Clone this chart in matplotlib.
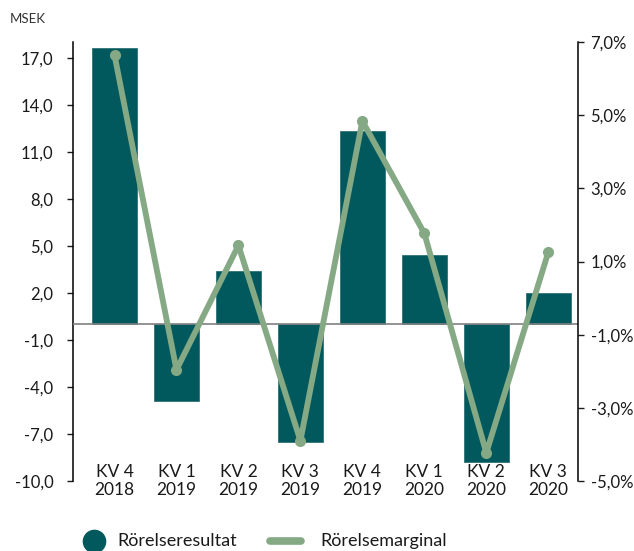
import matplotlib
matplotlib.use("Agg")
import matplotlib.pyplot as plt
from matplotlib.lines import Line2D
import matplotlib.transforms as mtransforms

plt.rcParams['font.family'] = ['Lato', 'DejaVu Sans']

categories = ["KV 4\n2018", "KV 1\n2019", "KV 2\n2019", "KV 3\n2019",
              "KV 4\n2019", "KV 1\n2020", "KV 2\n2020", "KV 3\n2020"]
rorelseresultat = [17.6, -4.9, 3.4, -7.5, 12.3, 4.4, -8.8, 2.0]
rorelsemarginal = [6.64, -1.96, 1.44, -3.9, 4.84, 1.77, -4.23, 1.25]
left_ticks = [-10, -7, -4, -1, 2, 5, 8, 11, 14, 17]
right_ticks = [-5, -3, -1, 1, 3, 5, 7]
legend_labels = ["Rörelseresultat", "Rörelsemarginal"]

bar_color = "#01595D"
line_color = "#84A984"

W, H = 634, 551
fig = plt.figure(figsize=(W/100, H/100), dpi=100)
ax = fig.add_axes([73/W, 1-481/H, (578-73)/W, (481-42)/H])
ax2 = ax.twinx()

x = list(range(len(categories)))
ax.bar(x, rorelseresultat, width=0.73, color=bar_color, edgecolor="#2f7477", linewidth=0.6, zorder=2)
ax.axhline(0, color="#808080", linewidth=1.2, zorder=3)
ax.set_ylim(-10, 18)
ax.set_xlim(-0.67, 7.48)
ax.set_yticks(left_ticks)
ax.set_yticklabels([f"{t:.1f}".replace(".", ",") for t in left_ticks])

ax2.plot(x, rorelsemarginal, color=line_color, linewidth=4.2, marker="o",
         markersize=7, solid_capstyle="round", zorder=4)
ax2.set_ylim(-5, 7)
ax2.set_yticks(right_ticks)
ax2.set_yticklabels([f"{t:.1f}%".replace(".", ",") for t in right_ticks])

for a in (ax, ax2):
    for s in ("top", "bottom"):
        a.spines[s].set_visible(False)
ax.spines["right"].set_visible(False)
ax2.spines["left"].set_visible(False)
ax.spines["left"].set_linewidth(1.1)
ax2.spines["right"].set_linewidth(1.1)

ax.tick_params(axis="y", length=4, width=1, pad=10, labelsize=12, colors="#1a1a1a")
ax2.tick_params(axis="y", length=4, width=1, pad=5, labelsize=12, colors="#1a1a1a")
ax.set_xticks([])

trans = mtransforms.blended_transform_factory(ax.transData, ax.transAxes)
for xi, lab in zip(x, categories):
    ax.text(xi, 0.0, lab, transform=trans, ha="center", va="center",
            fontsize=12.5, linespacing=1.2, color="#1a1a1a")

fig.text(10/W, 1-19/H, "MSEK", fontsize=9.5, ha="left", va="center",
         color="#333333", fontstretch="condensed")

# Legend drawn in figure pixel coordinates
ly = 1 - 541/H
fig.add_artist(Line2D([94/W], [ly], marker="o", markersize=16, color=bar_color,
                      linestyle="none", transform=fig.transFigure))
fig.text(117/W, ly, legend_labels[0], fontsize=13, ha="left", va="center", color="#1a1a1a")
fig.add_artist(Line2D([270/W, 301/W], [ly, ly], color=line_color, linewidth=5.5,
                      solid_capstyle="round", transform=fig.transFigure))
fig.text(320/W, ly, legend_labels[1], fontsize=13, ha="left", va="center", color="#1a1a1a")

fig.savefig("out.png", dpi=100)
